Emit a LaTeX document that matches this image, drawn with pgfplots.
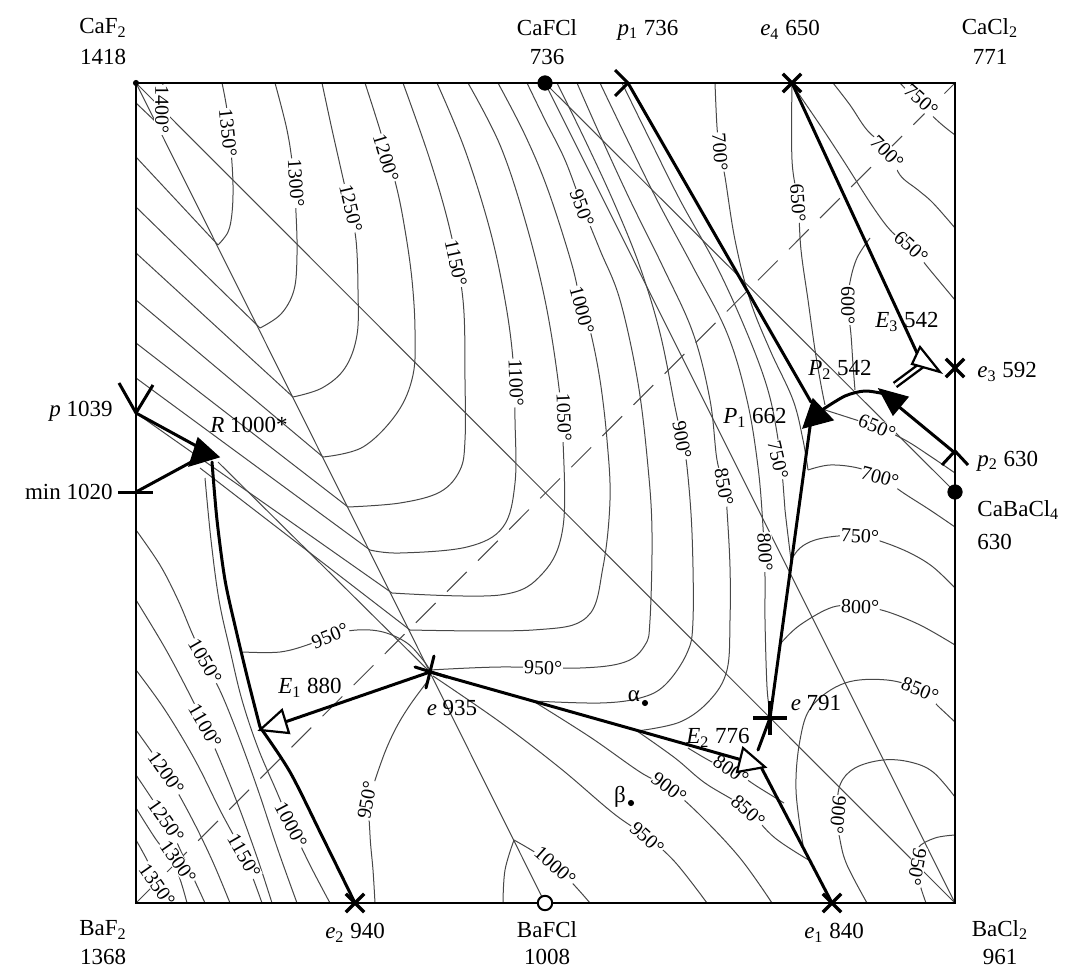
\documentclass[border=0pt]{standalone}
\usepackage{fontspec}
\setmainfont{Liberation Serif}
\usepackage{pgfplots}
\pgfplotsset{compat=1.18}
\tikzset{
  iso/.style={black!72, line width=0.5pt},
  isoc/.style={iso, smooth, tension=0.6},
  bnd/.style={black, line width=1.5pt, line join=round, line cap=round},
  lab/.style={font=\fontsize{10}{11}\selectfont, fill=white, inner sep=0.4pt},
  big/.style={font=\fontsize{11.5}{13}\selectfont, inner sep=0pt},
}
\begin{document}
\begin{tikzpicture}
\begin{axis}[
  width=537.5pt, height=486.5pt, scale only axis,
  xmin=0, xmax=1075, ymin=0, ymax=973, y dir=reverse,
  hide axis, clip=false,
]
\path (axis cs:0,0) rectangle (axis cs:1075,973);

% ---- secants and stable diagonals
\addplot[iso] coordinates {(136,83)(545,903)};
\addplot[iso] coordinates {(136,83)(955,903)};
\addplot[iso] coordinates {(545,83)(955,903)};
\addplot[iso] coordinates {(545,83)(955,492)};
\addplot[iso, dash pattern=on 14pt off 8pt] coordinates {(136,903)(955,83)};

% ---- CaF2 field: straight isotherms
\addplot[iso] coordinates {(136,103)(157,123)};
\addplot[iso] coordinates {(136,157)(218,245)};
\addplot[iso] coordinates {(136,207)(260,328)};
\addplot[iso] coordinates {(136,253)(293,397)};
\addplot[iso] coordinates {(136,300)(323,457)};
\addplot[iso] coordinates {(136,343)(348,507)};
\addplot[iso] coordinates {(136,378)(370,550)};
\addplot[iso] coordinates {(136,413)(392,593)};
\addplot[iso] coordinates {(200,468)(410,630)};
\addplot[iso] coordinates {(218,462)(430,672)};

% ---- CaFCl field isotherms
\addplot[isoc] coordinates {(157,123)(161,105)(163,83)};
\addplot[isoc] coordinates {(218,245)(228,232)(232,213)(233,185)(231,150)(227,110)(222,83)};
\addplot[isoc] coordinates {(260,328)(281,314)(294,290)(297,255)(296,213)(293,170)(287,130)(275,83)};
\addplot[isoc] coordinates {(293,397)(322,388)(345,368)(357,335)(358,290)(356,240)(349,205)(340,165)(331,125)(322,83)};
\addplot[isoc] coordinates {(323,457)(363,447)(397,413)(413,375)(415,330)(412,280)(405,230)(396,185)(380,130)(365,83)};
\addplot[isoc] coordinates {(348,507)(400,503)(440,492)(460,470)(465,440)(465,380)(463,300)(450,230)(430,160)(403,83)};
\addplot[isoc] coordinates {(370,550)(400,553)(467,547)(503,527)(515,483)(515,420)(513,360)(505,300)(490,230)(465,150)(437,83)};
\addplot[isoc] coordinates {(392,593)(500,595)(543,573)(563,527)(563,440)(558,380)(545,300)(525,220)(500,145)(468,83)};
\addplot[isoc] coordinates {(410,630)(533,630)(587,617)(603,567)(610,500)(607,440)(600,380)(590,330)(582,310)(572,265)(548,190)(525,135)(498,83)};
\addplot[isoc] coordinates {(430,670)(500,667)(580,668)(625,662)(645,645)(650,620)(652,533)(648,467)(638,383)(620,300)(600,250)(583,208)(565,160)(545,120)(527,83)};
\addplot[isoc] coordinates {(533,701)(600,703)(640,698)(665,685)(687,653)(693,620)(692,533)(687,467)(682,440)(675,407)(660,333)(640,267)(615,205)(585,140)(557,83)};
\addplot[isoc] coordinates {(637,731)(680,722)(710,700)(727,670)(730,620)(730,567)(727,510)(725,487)(717,460)(710,400)(693,333)(663,267)(630,200)(600,135)(577,83)};
\addplot[isoc] coordinates {(770,712)(767,687)(765,620)(765,577)(763,527)(758,467)(747,400)(727,333)(693,267)(657,200)(625,135)(600,83)};
\addplot[isoc] coordinates {(791,560)(785,510)(783,483)(777,433)(767,387)(747,333)(717,267)(680,200)(650,140)(622,83)};
\addplot[isoc] coordinates {(715,83)(717,127)(720,152)(725,177)(735,240)(750,300)(770,350)(793,400)(803,440)(808,470)};
\addplot[isoc] coordinates {(792,83)(792,160)(798,203)(801,250)(808,300)(815,350)(821,385)(825,405)};

% ---- CaCl2 and CaBaCl4 fields
\addplot[isoc] coordinates {(796,90)(820,125)(843,160)(873,207)(892,232)(911,247)(930,270)(955,300)};
\addplot[isoc] coordinates {(833,83)(850,105)(867,130)(888,150)(900,175)(918,190)(933,203)(955,228)};
\addplot[isoc] coordinates {(900,83)(918,102)(940,123)(955,135)};
\addplot[isoc] coordinates {(870,238)(857,258)(850,282)(848,305)(851,335)(853,365)(855,390)};
\addplot[isoc] coordinates {(825,410)(850,418)(877,427)(905,440)(930,456)(955,473)};
\addplot[isoc] coordinates {(808,470)(830,465)(858,468)(880,477)(905,494)(930,510)(955,527)};
\addplot[isoc] coordinates {(791,560)(800,548)(815,540)(838,536)(860,536)(883,542)(910,553)(933,567)(955,588)};
\addplot[isoc] coordinates {(781,643)(800,625)(833,607)(860,607)(885,611)(920,625)(955,645)};

% ---- BaCl2 field
\addplot[isoc] coordinates {(803,845)(796,790)(800,740)(812,706)(845,683)(887,680)(920,690)(940,708)(955,722)};
\addplot[isoc] coordinates {(867,903)(847,865)(840,840)(837,815)(840,785)(855,768)(883,760)(910,762)(933,772)(955,797)};
\addplot[isoc] coordinates {(926,903)(920,885)(916,867)(918,848)(935,838)(955,835)};

% ---- BaFCl field
\addplot[isoc] coordinates {(533,701)(590,737)(640,772)(669,788)(700,815)(740,858)(772,903)};
\addplot[isoc] coordinates {(433,676)(500,722)(560,768)(613,813)(647,837)(675,862)(707,903)};
\addplot[isoc] coordinates {(503,903)(505,870)(514,840)};
\addplot[isoc] coordinates {(514,840)(555,866)(590,903)};
\addplot[isoc] coordinates {(637,731)(675,758)(705,783)(745,808)(775,838)(812,862)};
\addplot[isoc] coordinates {(688,748)(712,762)(735,772)(758,787)(784,803)};
\addplot[isoc] coordinates {(430,678)(410,705)(395,730)(382,760)(370,800)(370,835)(373,870)(375,903)};
\addplot[isoc] coordinates {(243,652)(280,652)(310,644)(330,635)(357,630)(383,632)(407,643)(423,660)(430,670)};

% ---- BaF2 field
\addplot[isoc] coordinates {(205,478)(211,540)(219,600)(230,650)(242,700)(258,748)(276,790)(291,825)(310,865)(330,903)};
\addplot[isoc] coordinates {(136,530)(160,565)(178,600)(192,633)(205,661)(222,695)(240,740)(258,790)(278,850)(297,903)};
\addplot[isoc] coordinates {(136,600)(165,648)(190,695)(205,726)(222,765)(240,810)(258,860)(272,903)};
\addplot[isoc] coordinates {(136,670)(165,710)(195,760)(220,810)(244,856)(262,903)};
\addplot[isoc] coordinates {(136,730)(166,773)(190,815)(212,860)(230,903)};
\addplot[isoc] coordinates {(136,775)(166,821)(185,860)(205,903)};
\addplot[isoc] coordinates {(136,808)(155,838)(175,866)(187,903)};
\addplot[isoc] coordinates {(136,840)(148,862)(157,884)(166,903)};

% ---- isotherm labels
\node[lab, rotate=-90] at (axis cs:162,110) {1400°};
\node[lab, rotate=-84] at (axis cs:228,133) {1350°};
\node[lab, rotate=-86] at (axis cs:296,183) {1300°};
\node[lab, rotate=-77] at (axis cs:351,208) {1250°};
\node[lab, rotate=-73] at (axis cs:386,158) {1200°};
\node[lab, rotate=-78] at (axis cs:456,263) {1150°};
\node[lab, rotate=-88] at (axis cs:516,383) {1100°};
\node[lab, rotate=-88] at (axis cs:564,417) {1050°};
\node[lab, rotate=-75] at (axis cs:582,310) {1000°};
\node[lab, rotate=-70] at (axis cs:582,208) {950°};
\node[lab, rotate=-2] at (axis cs:543,668) {950°};
\node[lab, rotate=22] at (axis cs:330,636) {950°};
\node[lab, rotate=-80] at (axis cs:682,440) {900°};
\node[lab, rotate=-80] at (axis cs:724,487) {850°};
\node[lab, rotate=-87] at (axis cs:765,552) {800°};
\node[lab, rotate=-77] at (axis cs:778,460) {750°};
\node[lab, rotate=-86] at (axis cs:720,152) {700°};
\node[lab, rotate=-86] at (axis cs:798,203) {650°};
\node[lab, rotate=-42] at (axis cs:921,100) {750°};
\node[lab, rotate=-45] at (axis cs:887,152) {700°};
\node[lab, rotate=-42] at (axis cs:911,247) {650°};
\node[lab, rotate=-90] at (axis cs:848,305) {600°};
\node[lab, rotate=-22] at (axis cs:877,427) {650°};
\node[lab, rotate=-15] at (axis cs:880,477) {700°};
\node[lab, rotate=-3] at (axis cs:860,536) {750°};
\node[lab, rotate=-2] at (axis cs:860,607) {800°};
\node[lab, rotate=-22] at (axis cs:920,690) {850°};
\node[lab, rotate=-95] at (axis cs:838,815) {900°};
\node[lab, rotate=-100] at (axis cs:917,867) {950°};
\node[lab, rotate=-37] at (axis cs:669,788) {900°};
\node[lab, rotate=-42] at (axis cs:647,838) {950°};
\node[lab, rotate=-42] at (axis cs:555,866) {1000°};
\node[lab, rotate=-42] at (axis cs:748,811) {850°};
\node[lab, rotate=-35] at (axis cs:731,770) {800°};
\node[lab, rotate=80] at (axis cs:367,800) {950°};
\node[lab, rotate=-60] at (axis cs:205,661) {1050°};
\node[lab, rotate=-60] at (axis cs:205,726) {1100°};
\node[lab, rotate=-60] at (axis cs:244,856) {1150°};
\node[lab, rotate=-55] at (axis cs:166,773) {1200°};
\node[lab, rotate=-55] at (axis cs:166,821) {1250°};
\node[lab, rotate=-55] at (axis cs:157,885) {1350°};
\node[lab, rotate=-55] at (axis cs:178,862) {1300°};
\node[lab, rotate=-62] at (axis cs:291,825) {1000°};

% ---- square
\addplot[black, line width=1.1pt, line join=miter] coordinates {(136,83)(955,83)(955,903)(136,903)} -- cycle;

% ---- monovariant curves
\addplot[bnd] coordinates {(136,413)(200,448)};
\addplot[bnd] coordinates {(136,492)(195,460)};
\addplot[bnd, smooth] coordinates {(212,462)(217,520)(225,580)(236,630)(248,680)(260,727)};
\addplot[bnd, smooth] coordinates {(260,727)(290,772)(322,836)(355,903)};
\addplot[bnd] coordinates {(430,672)(285,722)};
\addplot[bnd] coordinates {(430,672)(742,760)};
\addplot[bnd] coordinates {(832,903)(760,765)};
\addplot[bnd] coordinates {(770,718)(758,750)};
\addplot[bnd] coordinates {(770,718)(813,405)};
\addplot[bnd] coordinates {(628,83)(811,402)};
\addplot[bnd, smooth] coordinates {(822,410)(845,396)(865,391)(885,394)};
\addplot[bnd] coordinates {(955,453)(898,406)};
\addplot[bnd] coordinates {(792,83)(917,353)};
\addplot[black, line width=1.2pt, double=white, double distance=1.3pt] coordinates {(926,362)(895,385)};

% ---- arrowheads
\addplot[black, fill=black, line width=0.6pt] coordinates {(198,438)(219,457)(189,466)} -- cycle;
\addplot[black, fill=black, line width=0.6pt] coordinates {(813,399)(833,420)(803,428)} -- cycle;
\addplot[black, fill=black, line width=0.6pt] coordinates {(879,389)(908,397)(893,415)} -- cycle;
\addplot[black, fill=white, line width=1.1pt, line join=miter] coordinates {(260,730)(289,733)(282,710)} -- cycle;
\addplot[black, fill=white, line width=1.1pt, line join=miter] coordinates {(765,767)(743,748)(737,772)} -- cycle;
\addplot[black, fill=white, line width=1.1pt, line join=miter] coordinates {(940,372)(920,347)(912,364)} -- cycle;

% ---- invariant points
\addplot[only marks, mark=x, mark size=6.5pt, mark options={line width=1.7pt, black}] coordinates {(792,83)(955,368)(355,903)(832,903)};
\addplot[only marks, mark=+, mark size=8.5pt, mark options={line width=1.7pt, black}] coordinates {(770,718)};
\addplot[bnd] coordinates {(415,667)(447,677)};
\addplot[bnd] coordinates {(434,656)(426,688)};
\addplot[bnd, line cap=butt] coordinates {(615,70)(628,83)(615,96)};
\addplot[bnd, line cap=butt] coordinates {(119,383)(136,413)(153,385)};
\addplot[bnd, line cap=butt] coordinates {(942,465)(955,451)(968,465)};
\addplot[bnd, line cap=butt] coordinates {(118,492)(153,492)};
\addplot[only marks, mark=*, mark size=3.6pt, mark options={black}] coordinates {(545,83)(955,492)};
\addplot[only marks, mark=*, mark size=3.6pt, mark options={draw=black, fill=white, line width=1pt}] coordinates {(545,903)};
\addplot[only marks, mark=*, mark size=1.3pt, mark options={black}] coordinates {(136,83)(645,703)(631,803)};

% ---- point labels
\node[big] at (axis cs:103,28) {CaF\textsubscript{2}};
\node[big] at (axis cs:103,57) {1418};
\node[big] at (axis cs:547,28) {CaFCl};
\node[big] at (axis cs:547,57) {736};
\node[big] at (axis cs:648,30) {\textit{p}\textsubscript{1} 736};
\node[big] at (axis cs:790,30) {\textit{e}\textsubscript{4} 650};
\node[big] at (axis cs:990,28) {CaCl\textsubscript{2}};
\node[big] at (axis cs:990,57) {771};
\node[big] at (axis cs:103,930) {BaF\textsubscript{2}};
\node[big] at (axis cs:103,957) {1368};
\node[big] at (axis cs:355,933) {\textit{e}\textsubscript{2} 940};
\node[big] at (axis cs:547,930) {BaFCl};
\node[big] at (axis cs:547,957) {1008};
\node[big] at (axis cs:834,933) {\textit{e}\textsubscript{1} 840};
\node[big] at (axis cs:1000,930) {BaCl\textsubscript{2}};
\node[big] at (axis cs:1000,957) {961};
\node[big, anchor=west] at (axis cs:977,372) {\textit{e}\textsubscript{3} 592};
\node[big, anchor=west] at (axis cs:977,461) {\textit{p}\textsubscript{2} 630};
\node[big, anchor=west] at (axis cs:977,510) {CaBaCl\textsubscript{4}};
\node[big, anchor=west] at (axis cs:977,542) {630};
\node[big, anchor=east] at (axis cs:113,411) {\textit{p} 1039};
\node[big, anchor=east] at (axis cs:113,492) {min 1020};
\node[big, anchor=west] at (axis cs:210,425) {\textit{R} 1000*};
\node[big] at (axis cs:310,688) {\textit{E}\textsubscript{1} 880};
\node[big] at (axis cs:452,708) {\textit{e} 935};
\node[big] at (axis cs:718,738) {\textit{E}\textsubscript{2} 776};
\node[big] at (axis cs:816,703) {\textit{e} 791};
\node[big] at (axis cs:755,418) {\textit{P}\textsubscript{1} 662};
\node[big] at (axis cs:840,370) {\textit{P}\textsubscript{2} 542};
\node[big] at (axis cs:907,322) {\textit{E}\textsubscript{3} 542};
\node[big] at (axis cs:634,696) {α};
\node[big] at (axis cs:620,797) {β};
\end{axis}
\end{tikzpicture}
\end{document}
